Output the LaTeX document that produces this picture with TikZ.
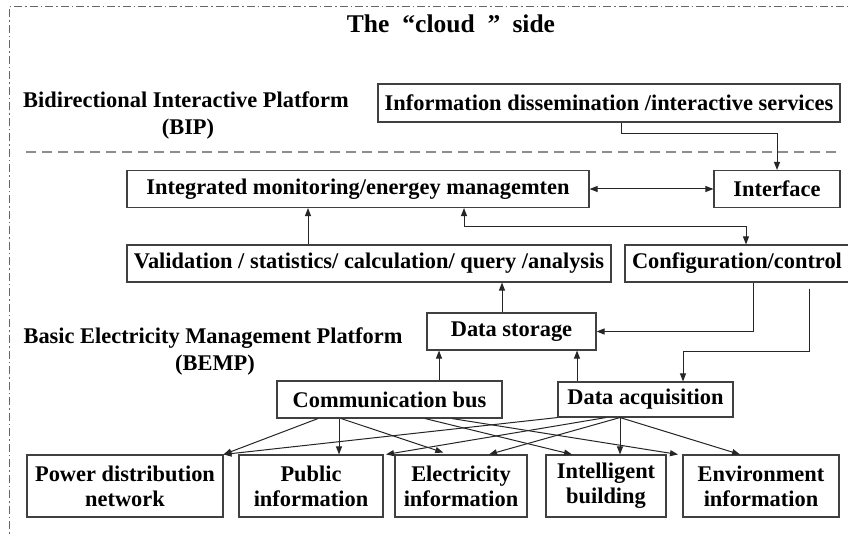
\documentclass[tikz,border=0pt]{standalone}
\usepackage{fontspec}
\setmainfont{Liberation Serif}
\usetikzlibrary{arrows.meta}
\begin{document}
\begin{tikzpicture}[x=1pt,y=-1pt,
  box/.style={draw=black!75, line width=1.1pt, inner sep=0pt, align=center,
    font=\fontsize{22.4}{25}\selectfont\bfseries},
  lab/.style={font=\fontsize{22.4}{25}\selectfont\bfseries, anchor=base},
  conn/.style={draw=black!85, line width=1pt},
  arr/.style={conn, -{Triangle[length=8pt,width=6pt]}},
  darr/.style={conn, {Triangle[length=8pt,width=6pt]}-{Triangle[length=8pt,width=6pt]}}]
\clip (0,0) rectangle (848,534);
\fill[white] (0,0) rectangle (848,534);
% outer dash-dot frame
\draw[black!60, line width=1pt, dash pattern=on 8pt off 3pt on 1.5pt off 3pt]
  (9,560) -- (9,7) -- (880,7);
% separator
\draw[black!45, line width=2pt, dash pattern=on 10pt off 6pt] (26,152) -- (842,152);
% title and platform labels
\node[font=\fontsize{25.5}{28}\selectfont\bfseries, anchor=base] (title) at (451,33)
  {The\hspace{13pt}“cloud\hspace{13pt}”\hspace{12pt}side};
\node[lab] (bip1) at (186,108) {Bidirectional Interactive Platform};
\node[lab] (bip2) at (188,135) {(BIP)};
\node[lab] (bemp1) at (213,343) {Basic Electricity Management Platform};
\node[lab] (bemp2) at (215,370) {(BEMP)};
% boxes
\node[box, minimum width=462, minimum height=38] (info) at (609,103) {Information dissemination /interactive services};
\node[box, minimum width=462, minimum height=37] (integ) at (358,189) {Integrated monitoring/energey managemten};
\node[box, minimum width=126, minimum height=37] (iface) at (777,189) {Interface};
\node[box, minimum width=484, minimum height=37] (valid) at (369,263.5) {Validation / statistics/ calculation/ query /analysis};
\node[box, minimum width=224, minimum height=37] (config) at (737,263.5) {Configuration/control};
\node[box, minimum width=169, minimum height=37] (ds) at (511.5,331.5) {Data storage};
\node[box, minimum width=225, minimum height=37] (cb) at (389.5,399.5) {Communication bus};
\node[box, minimum width=175, minimum height=35] (da) at (645.5,399.5) {Data acquisition};
\node[box, minimum width=196, minimum height=62] (power) at (125,486) {Power distribution\\network};
\node[box, minimum width=144, minimum height=62] (pub) at (311,486) {Public\\information};
\node[box, minimum width=132, minimum height=62] (elec) at (461,486) {Electricity\\information};
\node[box, minimum width=120, minimum height=62] (intel) at (606,486) {Intelligent\\building};
\node[box, minimum width=156, minimum height=62] (env) at (761,486) {Environment\\information};
% upper connectors
\draw[arr] (621,0 |- info.south) -- ++(0,11) -| (iface.north);
\draw[darr] (integ.east) -- (iface.west);
\draw[arr] (308,0 |- valid.north) -- (308,0 |- integ.south);
\draw[darr] (464,0 |- integ.south) -- ++(0,18) -| (746,0 |- config.north);
\draw[arr] (502,0 |- ds.north) -- (502,0 |- valid.south);
\draw[arr] (753,0 |- config.south) |- (ds.east);
\draw[arr] (809,0 |- config.south) ++(0,6) -- ++(0,63) -| (683,0 |- da.north);
\draw[arr] (439,0 |- cb.north) -- (439,0 |- ds.south);
\draw[arr] (577,0 |- da.north) -- (577,0 |- ds.south);
% fan from communication bus
\draw[arr] (318,0 |- cb.south) -- (power.north east);
\draw[arr] (339,0 |- cb.south) -- (339,0 |- pub.north);
\draw[arr, shorten >=6pt] (341,0 |- cb.south) -- (449,0 |- elec.north);
\draw[arr] (425,0 |- cb.south) -- (572,0 |- intel.north);
\draw[arr] (452,0 |- cb.south) -- (678,0 |- env.north);
% fan from data acquisition
\draw[arr] (da.south west) -- (power.north east);
\draw[arr] (606,0 |- da.south) -- (386,0 |- pub.north);
\draw[arr] (620,0 |- da.south) -- (489,0 |- elec.north);
\draw[arr] (620,0 |- da.south) -- (620,0 |- intel.north);
\draw[arr] (620,0 |- da.south) -- (740,0 |- env.north);
\end{tikzpicture}
\end{document}
